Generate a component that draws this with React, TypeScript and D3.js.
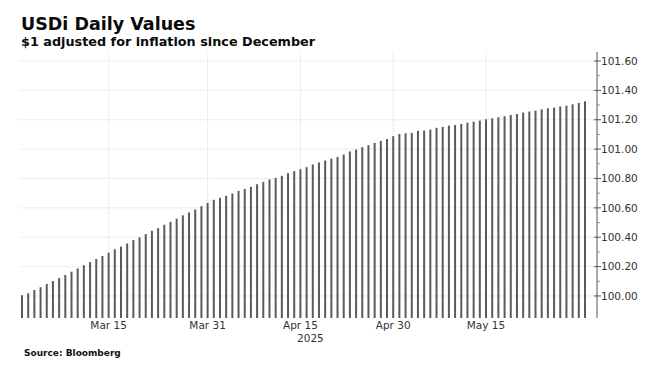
import React from "react";
import * as d3 from "d3";

const startDate = new Date(2025, 2, 1);
const values: number[] = [
  100.005, 100.018, 100.041, 100.059, 100.082, 100.102, 100.122, 100.143, 100.165, 100.188, 100.209, 100.231, 100.252, 100.272, 100.295, 100.318,
  100.336, 100.358, 100.381, 100.399, 100.421, 100.444, 100.462, 100.485, 100.505, 100.526, 100.549, 100.569, 100.589, 100.612, 100.634, 100.655, 100.668,
  100.682, 100.698, 100.716, 100.729, 100.743, 100.761, 100.777, 100.793, 100.804, 100.818, 100.836, 100.85, 100.863, 100.877, 100.895, 100.909, 100.922,
  100.935, 100.947, 100.963, 100.984, 100.997, 101.013, 101.027, 101.042, 101.056, 101.069, 101.088, 101.103, 101.108, 101.11, 101.124, 101.126, 101.133,
  101.145, 101.151, 101.16, 101.164, 101.171, 101.18, 101.187, 101.194, 101.203, 101.21, 101.217, 101.224, 101.232, 101.239, 101.249, 101.256, 101.262,
  101.271, 101.278, 101.283, 101.29, 101.296, 101.305, 101.314, 101.326,
];
const dates: Date[] = values.map((_, i) => d3.timeDay.offset(startDate, i));

const xTickDates: Date[] = [
  new Date(2025, 2, 15),
  new Date(2025, 2, 31),
  new Date(2025, 3, 15),
  new Date(2025, 3, 30),
  new Date(2025, 4, 15),
];
const xTickLabels: string[] = ["Mar 15", "Mar 31", "Apr 15", "Apr 30", "May 15"];
const yearLabel = "2025";
const yMajorTicks: number[] = [100.0, 100.2, 100.4, 100.6, 100.8, 101.0, 101.2, 101.4, 101.6];
const yMinorTicks: number[] = [100.1, 100.3, 100.5, 100.7, 100.9, 101.1, 101.3, 101.5];

const title = "USDi Daily Values";
const subtitle = "$1 adjusted for inflation since December";
const source = "Source: Bloomberg";

const W = 656;
const H = 367;
const plotLeft = 20;
const plotRight = 597;
const plotTop = 52;
const plotBottom = 318;

export default function App() {
  const x = d3
    .scaleTime()
    .domain([dates[0], dates[dates.length - 1]])
    .range([22, 585]);
  const y = d3.scaleLinear().domain([99.85, 101.6]).range([plotBottom, 61]);
  const font = "'DejaVu Sans', Verdana, sans-serif";

  return (
    <svg
      width={W}
      height={H}
      style={{ position: "absolute", left: 0, top: 0, display: "block", background: "#fff" }}
      fontFamily={font}
    >
      <rect x={0} y={0} width={W} height={H} fill="#fff" />
      <text x={21} y={30} fontSize={17.5} fontWeight="bold" fill="#0a0a0a">
        {title}
      </text>
      <text x={21} y={46} fontSize={12.8} fontWeight="bold" fill="#0a0a0a">
        {subtitle}
      </text>

      {/* horizontal gridlines */}
      {yMajorTicks.map((v) => (
        <line
          key={"hg" + v}
          x1={plotLeft}
          x2={plotRight}
          y1={y(v)}
          y2={y(v)}
          stroke="#cfcfcf"
          strokeWidth={0.8}
          strokeDasharray="1,1"
        />
      ))}
      {/* vertical gridlines */}
      {xTickDates.map((d, i) => (
        <line
          key={"vg" + i}
          x1={x(d)}
          x2={x(d)}
          y1={plotTop}
          y2={plotBottom}
          stroke="#d6d6d6"
          strokeWidth={0.8}
          strokeDasharray="1,1"
        />
      ))}

      {/* bars */}
      {values.map((v, i) => (
        <line
          key={"b" + i}
          x1={x(dates[i])}
          x2={x(dates[i])}
          y1={plotBottom}
          y2={y(v)}
          stroke="#5a5a5a"
          strokeWidth={2}
        />
      ))}

      {/* right axis */}
      <line x1={plotRight} x2={plotRight} y1={plotTop} y2={plotBottom} stroke="#555" strokeWidth={1} />
      {yMajorTicks.map((v) => (
        <g key={"yt" + v}>
          <line x1={plotRight - 3} x2={plotRight + 4} y1={y(v)} y2={y(v)} stroke="#555" strokeWidth={1} />
          <text x={plotRight + 4} y={y(v)} dy="0.35em" fontSize={10.5} fill="#333">
            {v.toFixed(2)}
          </text>
        </g>
      ))}
      {yMinorTicks.map((v) => (
        <line key={"ym" + v} x1={plotRight} x2={plotRight + 3} y1={y(v)} y2={y(v)} stroke="#777" strokeWidth={0.8} />
      ))}

      {/* x labels */}
      {xTickDates.map((d, i) => (
        <text key={"xl" + i} x={x(d)} y={329} textAnchor="middle" fontSize={10.5} fill="#333">
          {xTickLabels[i]}
        </text>
      ))}
      <text x={x(xTickDates[2]) + 10} y={342} textAnchor="middle" fontSize={10.5} fill="#333">
        {yearLabel}
      </text>

      <text x={24} y={356} fontSize={9} fontWeight="bold" fill="#111">
        {source}
      </text>
    </svg>
  );
}
